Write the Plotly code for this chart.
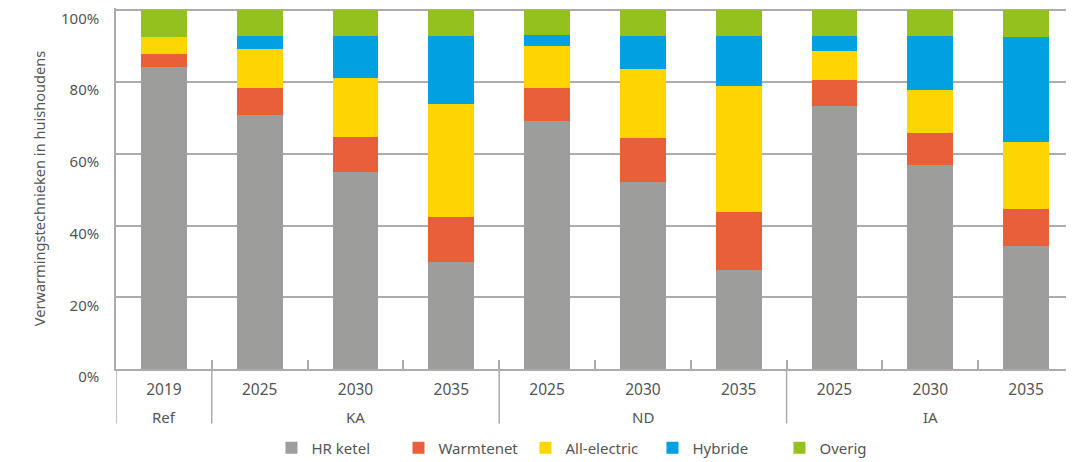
import plotly.graph_objects as go

groups = ["Ref", "KA", "KA", "KA", "ND", "ND", "ND", "IA", "IA", "IA"]
years = ["2019", "2025", "2030", "2035", "2025", "2030", "2035", "2025", "2030", "2035"]

hr_ketel = [84.2, 70.8, 55.0, 29.7, 69.2, 52.0, 27.7, 73.4, 57.0, 34.4]
warmtenet = [3.7, 7.6, 9.8, 12.7, 9.2, 12.5, 16.1, 7.3, 8.9, 10.3]
all_electric = [4.7, 10.8, 16.4, 31.5, 11.7, 19.0, 35.2, 8.0, 12.0, 18.7]
hybride = [0.0, 3.7, 11.7, 19.0, 3.1, 9.4, 13.9, 4.2, 15.0, 29.2]
overig = [7.4, 7.1, 7.1, 7.1, 6.8, 7.1, 7.1, 7.1, 7.1, 7.4]

series = [
    ("HR ketel", hr_ketel, "#9d9d9c"),
    ("Warmtenet", warmtenet, "#e95f39"),
    ("All-electric", all_electric, "#ffd500"),
    ("Hybride", hybride, "#00a0e1"),
    ("Overig", overig, "#95c11f"),
]

font_family = "Noto Sans, Open Sans, sans-serif"
text_color = "#555555"
line_color = "#acacac"

idx = list(range(len(years)))

fig = go.Figure()
for name, vals, col in series:
    fig.add_trace(go.Bar(
        x=idx, y=vals, name=name,
        marker=dict(color=col, line=dict(width=0)),
    ))

# group structure derived from the groups list
group_spans = []
for i, g in enumerate(groups):
    if group_spans and group_spans[-1][0] == g:
        group_spans[-1][2] = i
    else:
        group_spans.append([g, i, i])

shapes = []
annotations = []
div_bottom = -0.151
for g, a, b in group_spans:
    annotations.append(dict(
        x=(a + b) / 2, xref="x", y=-0.134, yref="paper",
        text=g, showarrow=False, yanchor="middle", xanchor="center",
        font=dict(size=15, color=text_color, family=font_family),
    ))
    shapes.append(dict(
        type="line", xref="x", yref="paper",
        x0=a - 0.5, x1=a - 0.5, y0=0, y1=div_bottom,
        line=dict(color=line_color, width=1.5),
    ))

fig.update_layout(
    barmode="stack",
    bargap=0.52,
    width=1066, height=454,
    margin=dict(l=108, r=0, t=0, b=92.7, autoexpand=False),
    paper_bgcolor="white", plot_bgcolor="white",
    font=dict(family=font_family, size=15, color=text_color),
    showlegend=True,
    legend=dict(
        orientation="h", xref="container", yref="container",
        x=0.545, xanchor="center", y=0.031, yanchor="middle",
        font=dict(size=15, color=text_color),
        traceorder="normal", itemwidth=30,
        entrywidth=82, entrywidthmode="pixels",
    ),
    shapes=shapes,
    annotations=annotations,
    xaxis=dict(
        range=[-0.5, 9.5],
        tickmode="array", tickvals=idx, ticktext=years,
        ticks="", ticklabelstandoff=6,
        showgrid=False, zeroline=False,
        showline=True, linecolor=line_color, linewidth=1.5,
        minor=dict(
            tickmode="array",
            tickvals=[i + 0.5 for i in idx[:-1]],
            ticks="inside", ticklen=9, tickcolor=line_color, tickwidth=1.5,
            showgrid=False,
        ),
        tickfont=dict(size=15.5, color=text_color),
        automargin=False,
    ),
    yaxis=dict(
        range=[0, 100.64],
        tickmode="array", tickvals=[0, 20, 40, 60, 80, 100],
        ticktext=["0%", "20%", "40%", "60%", "80%", "100%"],
        showgrid=True, gridcolor=line_color, gridwidth=1.5,
        showline=True, linecolor=line_color, linewidth=1.5,
        zeroline=False,
        ticks="", ticklabelstandoff=12, ticklabelshift=8,
        ticklabeloverflow="allow",
        tickfont=dict(size=15, color=text_color),
        automargin=True,
        title=dict(text="Verwarmingstechnieken in huishoudens",
                   font=dict(size=14.6, color=text_color), standoff=12),
    ),
)

fig.write_html("out.html")
